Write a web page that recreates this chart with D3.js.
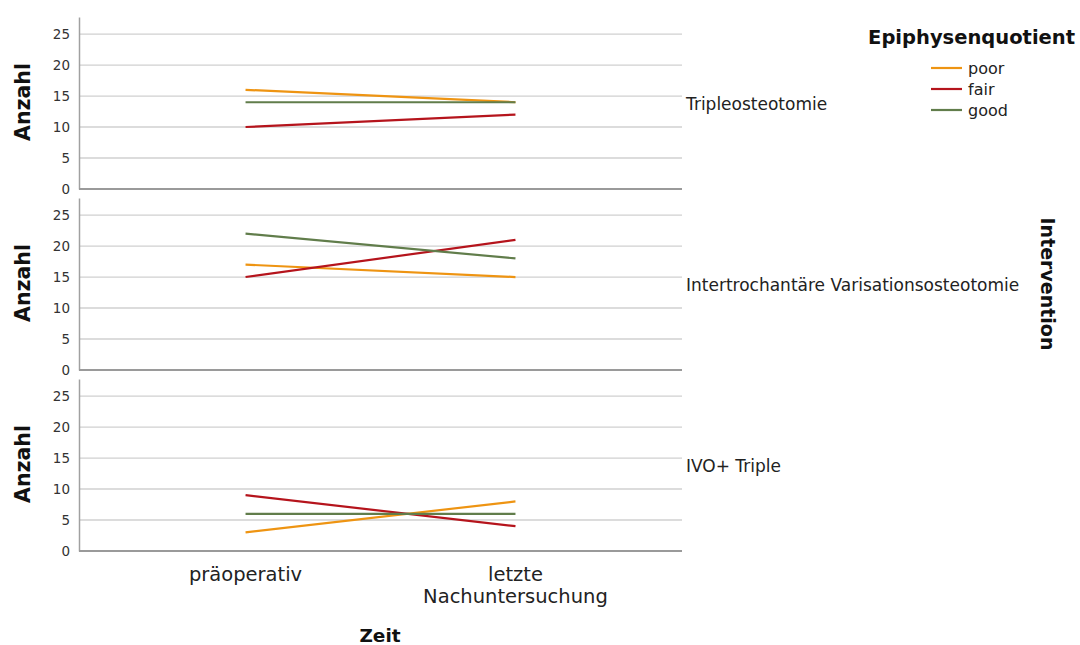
<!DOCTYPE html>
<html><head><meta charset="utf-8">
<script src="https://cdn.jsdelivr.net/npm/d3@7"></script>
<style>body{margin:0;background:#fff}svg{display:block}text{font-family:"DejaVu Sans",sans-serif}</style>
</head><body><svg id="c" width="1080" height="645"></svg>
<script>
const times = ["präoperativ", "letzte\nNachuntersuchung"];
const panels = ["Tripleosteotomie", "Intertrochantäre Varisationsosteotomie", "IVO+ Triple"];
const seriesNames = ["poor", "fair", "good"];
const colors = ["#ee9412", "#b5141c", "#617d4b"];
const poorVals = [[16, 14], [17, 15], [3, 8]];
const fairVals = [[10, 12], [15, 21], [9, 4]];
const goodVals = [[14, 14], [22, 18], [6, 6]];
const yTicks = [0, 5, 10, 15, 20, 25];
const seriesVals = [poorVals, fairVals, goodVals];

const svg = d3.select("#c");
const x0 = 79, x1 = 682;
const panelTops = [17, 198, 379], panelH = 172;
const x = d3.scalePoint().domain(times).range([x0, x1]).padding(0.617);

panels.forEach((p, i) => {
  const top = panelTops[i], bot = top + panelH;
  const y = d3.scaleLinear().domain([0, 27.75]).range([bot, top]);
  const g = svg.append("g");
  g.selectAll("line.grid").data(yTicks.slice(1)).join("line")
    .attr("x1", x0).attr("x2", x1).attr("y1", d => y(d)).attr("y2", d => y(d))
    .attr("stroke", "#d0d0d0").attr("stroke-width", 1.3);
  const ax = g.append("g").attr("transform", `translate(${x0},0)`)
    .call(d3.axisLeft(y).tickValues(yTicks).tickSize(0).tickPadding(9));
  ax.select(".domain").attr("stroke", "#a0a0a0").attr("stroke-width", 1.5);
  ax.selectAll("text").attr("font-size", 13.5).attr("fill", "#333");
  g.append("line").attr("x1", x0).attr("x2", x1).attr("y1", bot).attr("y2", bot)
    .attr("stroke", "#9a9a9a").attr("stroke-width", 2);
  const line = d3.line().x((d, j) => x(times[j])).y(d => y(d));
  seriesVals.forEach((sv, s) => {
    g.append("path").datum(sv[i]).attr("d", line).attr("fill", "none")
      .attr("stroke", colors[s]).attr("stroke-width", 2.2);
  });
  g.append("text").attr("x", 686).attr("y", (top + bot) / 2 + 2)
    .attr("dominant-baseline", "middle").attr("font-size", 17).attr("fill", "#222").text(p);
  g.append("text").attr("transform", `translate(24,${(top + bot) / 2 - 1}) rotate(-90)`)
    .attr("text-anchor", "middle").attr("dominant-baseline", "middle")
    .attr("font-size", 20.5).attr("font-weight", "bold").attr("fill", "#111").text("Anzahl");
});

times.forEach(t => {
  t.split("\n").forEach((l, k) => {
    svg.append("text").attr("x", x(t)).attr("y", 581 + k * 22)
      .attr("text-anchor", "middle").attr("font-size", 19.5).attr("fill", "#222").text(l);
  });
});
svg.append("text").attr("x", 380).attr("y", 642).attr("text-anchor", "middle")
  .attr("font-size", 18.5).attr("font-weight", "bold").attr("fill", "#111").text("Zeit");

svg.append("text").attr("transform", "translate(1046,284) rotate(90)")
  .attr("text-anchor", "middle").attr("dominant-baseline", "middle")
  .attr("font-size", 19).attr("font-weight", "bold").attr("fill", "#111").text("Intervention");

svg.append("text").attr("x", 1075).attr("y", 44).attr("text-anchor", "end")
  .attr("font-size", 19.5).attr("font-weight", "bold").attr("fill", "#111").text("Epiphysenquotient");
seriesNames.forEach((n, k) => {
  const ly = 68 + k * 21;
  svg.append("line").attr("x1", 931).attr("x2", 962).attr("y1", ly).attr("y2", ly)
    .attr("stroke", colors[k]).attr("stroke-width", 2.2);
  svg.append("text").attr("x", 968).attr("y", ly + 1).attr("dominant-baseline", "middle")
    .attr("font-size", 16).attr("fill", "#222").text(n);
});
</script></body></html>
